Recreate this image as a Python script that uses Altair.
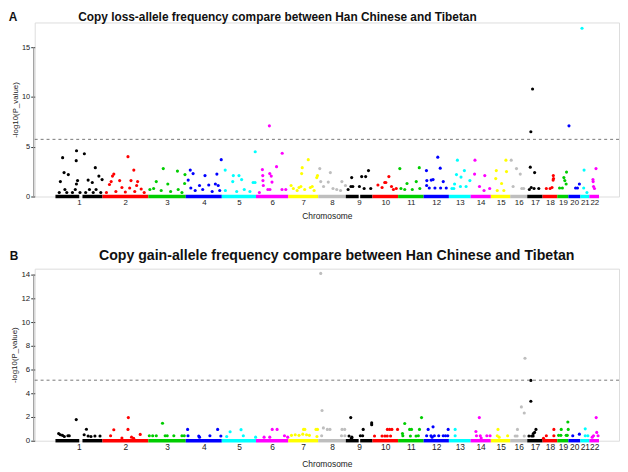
import altair as alt
import pandas as pd

FONT = "Liberation Sans"

# chromosome names, lengths (Mb) and R palette colours
CHROMS = [str(i) for i in range(1, 23)]
CHROM_LEN = [249, 243, 198, 191, 181, 171, 159, 146, 141, 136, 135,
             134, 115, 107, 103, 90, 81, 78, 59, 63, 48, 51]
PALETTE = ["#000000", "#FF0000", "#00CD00", "#0000FF",
           "#00FFFF", "#FF00FF", "#FFFF00", "#BEBEBE"]
CHROM_COLORS = [PALETTE[i % 8] for i in range(22)]

# gaps (genome-wide Mb) where the dense baseline is interrupted
GAP_START = [126, 1606]
GAP_END = [143, 1614]

# panel A: copy loss  (genome-wide position in Mb, -log10 p)
A_POS = [38, 111.5, 110, 153, 45.5, 68, 211, 26, 117, 111, 173, 195, 230, 247,
         20, 60, 90, 130, 160, 200, 240, 50, 105, 180, 215,
         384, 415, 309, 302, 295, 340, 400, 435, 286, 352, 393, 454, 430,
         270, 320, 370, 420, 470,
         571, 646, 534, 595, 686, 684, 500, 520, 560, 610, 650, 670,
         878, 714, 729, 792, 855, 703, 763, 812, 847, 862, 717, 740, 780, 830, 870,
         1058, 899, 942, 972, 939, 986, 1047, 1057, 900, 960, 1000, 1030,
         1133, 1201, 1171, 1096, 1135, 1098, 1143, 1099, 1147, 1101, 1136, 1125,
         1200, 1220, 1080,
         1339, 1307, 1304, 1388, 1384, 1248, 1260, 1280, 1300, 1320, 1350, 1370,
         1290, 1360,
         1400, 1456, 1405, 1445, 1517, 1536, 1420, 1470, 1490, 1510,
         1569, 1622, 1643, 1658, 1565, 1575, 1610, 1635, 1550, 1670,
         1766, 1744, 1750, 1708, 1730, 1790, 1780, 1805,
         1824, 1927, 1862, 1911, 1830, 1850, 1890, 1930,
         2025, 2038, 1965, 1967, 1990, 2000, 2054, 1966, 1980, 2010, 2040, 2070,
         2129, 2166, 2124, 2148, 2195, 2114, 2145, 2175, 2100, 2110,
         2222, 2220, 2274, 2246, 2270, 2300,
         2386, 2335, 2389, 2332, 2363, 2340, 2375,
         2414, 2442, 2462, 2424, 2470, 2480,
         2527, 2518, 2515, 2538, 2510, 2520, 2535, 2560,
         2637, 2638, 2636, 2630, 2620, 2600,
         2707, 2693, 2698, 2705, 2670, 2685,
         2720, 2775, 2755, 2765,
         2789, 2800, 2798, 2815,
         2863, 2847, 2848, 2850, 2855]
A_VAL = [3.9, 4.6, 3.6, 4.3, 2.4, 2.2, 2.9, 1.5, 1.6, 1.25, 1.65, 1.4, 2.05, 1.7,
         0.4, 0.4, 0.4, 0.4, 0.4, 0.4, 0.4, 0.7, 0.7, 0.7, 0.7,
         4.0, 2.65, 2.25, 2.05, 1.5, 1.6, 1.6, 1.5, 1.2, 0.9, 0.85, 0.75, 1.1,
         0.4, 0.5, 0.45, 0.5, 0.4,
         2.8, 2.55, 1.5, 1.25, 2.2, 1.3, 0.7, 0.8, 0.6, 0.5, 0.7, 0.4,
         3.7, 2.65, 2.3, 2.1, 2.25, 1.65, 1.1, 1.15, 1.25, 1.1, 0.85, 0.6, 0.7, 0.5, 0.6,
         4.5, 2.65, 2.1, 2.1, 1.5, 1.7, 1.4, 1.4, 0.6, 0.5, 0.7, 0.5,
         7.1, 4.35, 3.0, 2.7, 2.3, 2.1, 2.05, 1.6, 1.45, 1.1, 0.7, 0.7,
         0.7, 0.7, 0.4,
         3.7, 2.9, 2.3, 2.1, 1.9, 1.1, 0.8, 0.6, 1.0, 0.7, 0.9, 0.6,
         0.9, 1.0,
         2.8, 2.4, 1.5, 1.45, 1.5, 1.1, 1.0, 0.8, 0.7, 0.6,
         1.9, 2.0, 2.0, 2.6, 1.0, 1.0, 1.0, 0.8, 0.7, 0.8,
         2.0, 1.4, 1.4, 1.15, 0.9, 0.7, 1.0, 0.8,
         2.8, 2.9, 1.3, 1.5, 0.8, 0.7, 0.7, 0.8,
         3.95, 2.85, 2.6, 1.6, 1.65, 1.7, 1.5, 1.1, 0.85, 0.85, 0.85, 0.85,
         3.65, 2.6, 2.2, 1.95, 1.6, 1.25, 1.0, 1.0, 0.8, 0.8,
         3.65, 2.25, 2.1, 1.0, 0.6, 0.8,
         3.65, 2.6, 2.5, 1.8, 1.3, 0.6, 0.6,
         3.65, 2.8, 2.25, 1.0, 0.8, 0.8,
         10.8, 6.5, 2.95, 2.4, 0.7, 0.9, 0.8, 0.8,
         2.1, 1.8, 1.65, 0.9, 0.8, 0.8,
         2.45, 1.9, 1.6, 1.25, 0.85, 0.85,
         7.1, 1.25, 0.85, 0.85,
         16.9, 2.65, 0.85, 0.4,
         2.8, 1.7, 1.5, 1.0, 0.8]
A_THRESH = 5.74

# panel B: copy gain
B_POS = [110, 164, 17, 26, 37, 47, 66, 73, 152, 173, 188, 209, 236,
         386, 309, 384, 449, 292, 352, 403, 414,
         567, 497, 515, 534, 581, 592, 627, 670, 682,
         700, 859, 702, 759, 763, 818, 876,
         925, 983, 907, 995, 1060,
         1148, 1174, 1105, 1135, 1213, 1230,
         1314, 1321, 1380, 1388, 1250, 1270, 1290, 1310, 1330, 1345, 1385,
         1405, 1412, 1419, 1440, 1454, 1518, 1532, 1410, 1515, 1533,
         1564, 1630, 1675, 1675, 1555, 1570, 1568, 1615, 1627,
         1758, 1770, 1782, 1812, 1690, 1730, 1745, 1757, 1775,
         1939, 1850, 1876, 1886, 1928, 1838, 1840, 1880, 1910, 1922,
         2000, 1974, 2080, 1966, 1989, 2007, 2030, 2054, 2066, 2078, 1995,
         2117, 2117,
         2245, 2227, 2230, 2250, 2285, 2302, 2255,
         2344, 2340, 2395, 2350,
         2487, 2468, 2483, 2447, 2435, 2445, 2483,
         2518, 2518, 2545, 2538, 2531, 2508, 2522, 2530,
         2640, 2600, 2640, 2585,
         2714, 2679, 2716, 2665, 2677, 2705, 2711,
         2775, 2740,
         2806, 2806, 2820,
         2864, 2867, 2850, 2874, 2843]
B_VAL = [1.78, 0.97, 0.6, 0.5, 0.45, 0.35, 0.42, 0.42, 0.5, 0.4, 0.35, 0.4, 0.4,
         1.95, 0.92, 0.95, 0.53, 0.42, 0.22, 0.3, 0.2,
         1.47, 0.42, 0.42, 0.42, 0.42, 0.42, 0.42, 0.42, 0.42,
         0.95, 0.95, 0.42, 0.4, 0.3, 0.42, 0.4,
         0.75, 0.93, 0.35, 0.42, 0.3,
         0.95, 0.95, 0.3, 0.3, 0.42, 0.3,
         0.95, 0.95, 0.95, 0.95, 0.45, 0.5, 0.45, 0.55, 0.5, 0.45, 0.35,
         14.1, 2.55, 1.08, 0.95, 0.95, 0.95, 0.95, 0.42, 0.42, 0.42,
         1.95, 0.95, 1.5, 1.35, 0.4, 0.3, 0.2, 0.42, 0.42,
         0.95, 0.95, 0.95, 0.95, 0.4, 0.4, 0.4, 0.4, 0.4,
         1.95, 1.45, 0.95, 0.95, 0.95, 0.6, 0.42, 0.4, 0.4, 0.42,
         1.17, 0.95, 0.95, 0.42, 0.42, 0.42, 0.42, 0.42, 0.42, 0.42, 0.3,
         0.95, 0.42,
         1.95, 0.78, 0.42, 0.42, 0.42, 0.42, 0.22,
         0.95, 0.42, 0.42, 0.3,
         6.95, 2.85, 2.33, 0.95, 0.4, 0.4, 0.4,
         5.08, 3.33, 0.95, 0.7, 0.6, 0.4, 0.4, 0.4,
         0.95, 0.42, 0.42, 0.2,
         1.58, 0.95, 0.95, 0.45, 0.45, 0.45, 0.45,
         0.55, 0.42,
         1.0, 0.42, 0.42,
         1.95, 0.7, 0.42, 0.42, 0.3]
B_THRESH = 5.1

TITLE_A = "Copy loss-allele frequency compare between Han Chinese and Tibetan"
TITLE_B = "Copy gain-allele frequency compare between Han Chinese and Tibetan"

# ---- derived tables ----
starts, ends = [], []
acc = 0
for L in CHROM_LEN:
    starts.append(acc)
    acc += L
    ends.append(acc)
centers = [round((s + e) / 2) for s, e in zip(starts, ends)]
bounds = [starts[0]] + ends

band_rows = []
for c, s, e in zip(CHROMS, starts, ends):
    segs = [(s, e)]
    for gs, ge in zip(GAP_START, GAP_END):
        new = []
        for a, b in segs:
            if gs > a and ge < b:
                new += [(a, gs), (ge, b)]
            else:
                new.append((a, b))
        segs = new
    for a, b in segs:
        band_rows.append({"chrom": c, "start": a, "end": b, "zero": 0})
band_df = pd.DataFrame(band_rows)


def points_df(pos, val):
    df = pd.DataFrame({"pos": pos, "val": val})
    df["chrom"] = pd.cut(df["pos"], bins=bounds, labels=CHROMS).astype(str)
    return df


label_expr = ("[" + ",".join("'%s'" % c for c in CHROMS) + "][indexof(["
              + ",".join(str(c) for c in centers) + "], datum.value)]")

X_DOMAIN = [-110, 2985]
PLOT_W = 591


def panel(df, thresh, ytop, yticks, height, title, tsize, tdx, ty, tbase, letter, lx,
          xtitle_pad, lab_size):
    xscale = alt.Scale(domain=X_DOMAIN, nice=False, zero=False)
    yscale = alt.Scale(domain=[0, ytop], nice=False, zero=False)
    xaxis = alt.Axis(values=centers, labelExpr=label_expr, title="Chromosome",
                     domain=False, ticks=False, grid=False, labelOverlap=False,
                     labelFlush=False, labelFontSize=lab_size, labelPadding=2,
                     labelColor="#222", titleFontSize=8.5, titleFontWeight="normal",
                     titleColor="#222", titlePadding=xtitle_pad, labelFont=FONT,
                     titleFont=FONT)
    yaxis = alt.Axis(values=yticks, title="-log10(P_value)", domain=False, grid=False,
                     tickSize=4, tickColor="#333", labelFontSize=lab_size - 0.5,
                     labelPadding=1, labelColor="#222", titleFontSize=8,
                     titleFontWeight="normal", titleColor="#222", titlePadding=2,
                     labelFont=FONT, titleFont=FONT)
    color = alt.Color("chrom:N", scale=alt.Scale(domain=CHROMS, range=CHROM_COLORS),
                      legend=None)

    band = alt.Chart(band_df).mark_rule(strokeWidth=3.5).encode(
        x=alt.X("start:Q", scale=xscale, axis=xaxis),
        x2="end:Q",
        y=alt.Y("zero:Q", scale=yscale, axis=yaxis),
        color=color,
    )
    pts = alt.Chart(df).mark_circle(size=10, opacity=1).encode(
        x=alt.X("pos:Q", scale=xscale, axis=xaxis),
        y=alt.Y("val:Q", scale=yscale, axis=yaxis),
        color=color,
    )
    thr = alt.Chart(pd.DataFrame({"t": [thresh]})).mark_rule(
        strokeDash=[3, 3], color="#555", strokeWidth=0.8).encode(
        y=alt.Y("t:Q", scale=yscale, axis=yaxis))
    axline = alt.Chart(pd.DataFrame({"lo": [yticks[0]], "hi": [yticks[-1]]})).mark_rule(
        color="#999", strokeWidth=1.2).encode(
        x=alt.value(-1),
        y=alt.Y("lo:Q", scale=yscale, axis=yaxis),
        y2="hi:Q")
    let = alt.Chart(pd.DataFrame({"t": [letter]})).mark_text(
        font=FONT, fontWeight="bold", fontSize=12, color="#111",
        baseline=tbase).encode(
        text="t:N", x=alt.value(lx), y=alt.value(ty))
    ttl = alt.Chart(pd.DataFrame({"t": [title]})).mark_text(
        font=FONT, fontWeight="bold", fontSize=tsize, color="#111",
        align="left", baseline=tbase).encode(
        text="t:N", x=alt.value(tdx), y=alt.value(ty))
    return alt.layer(band, pts, thr, axline, let, ttl).properties(
        width=PLOT_W, height=height)


pa = panel(points_df(A_POS, A_VAL), A_THRESH, 17.48, [0, 5, 10, 15], 176,
           TITLE_A, 12, 44, -10, "top", "A", -22, 5, 8)
pb = panel(points_df(B_POS, B_VAL), B_THRESH, 14.5, [0, 2, 4, 6, 8, 10, 12, 14], 174,
           TITLE_B, 14.3, 65, -13, "middle", "B", -21, 9, 8.5)

chart = alt.vconcat(pa, pb, spacing=28).properties(
    padding={"left": 0, "top": 0, "right": 0, "bottom": 0}
).configure_view(strokeWidth=0).configure(font=FONT)

chart.save("out.html", embed_options={"renderer": "svg", "actions": False})
